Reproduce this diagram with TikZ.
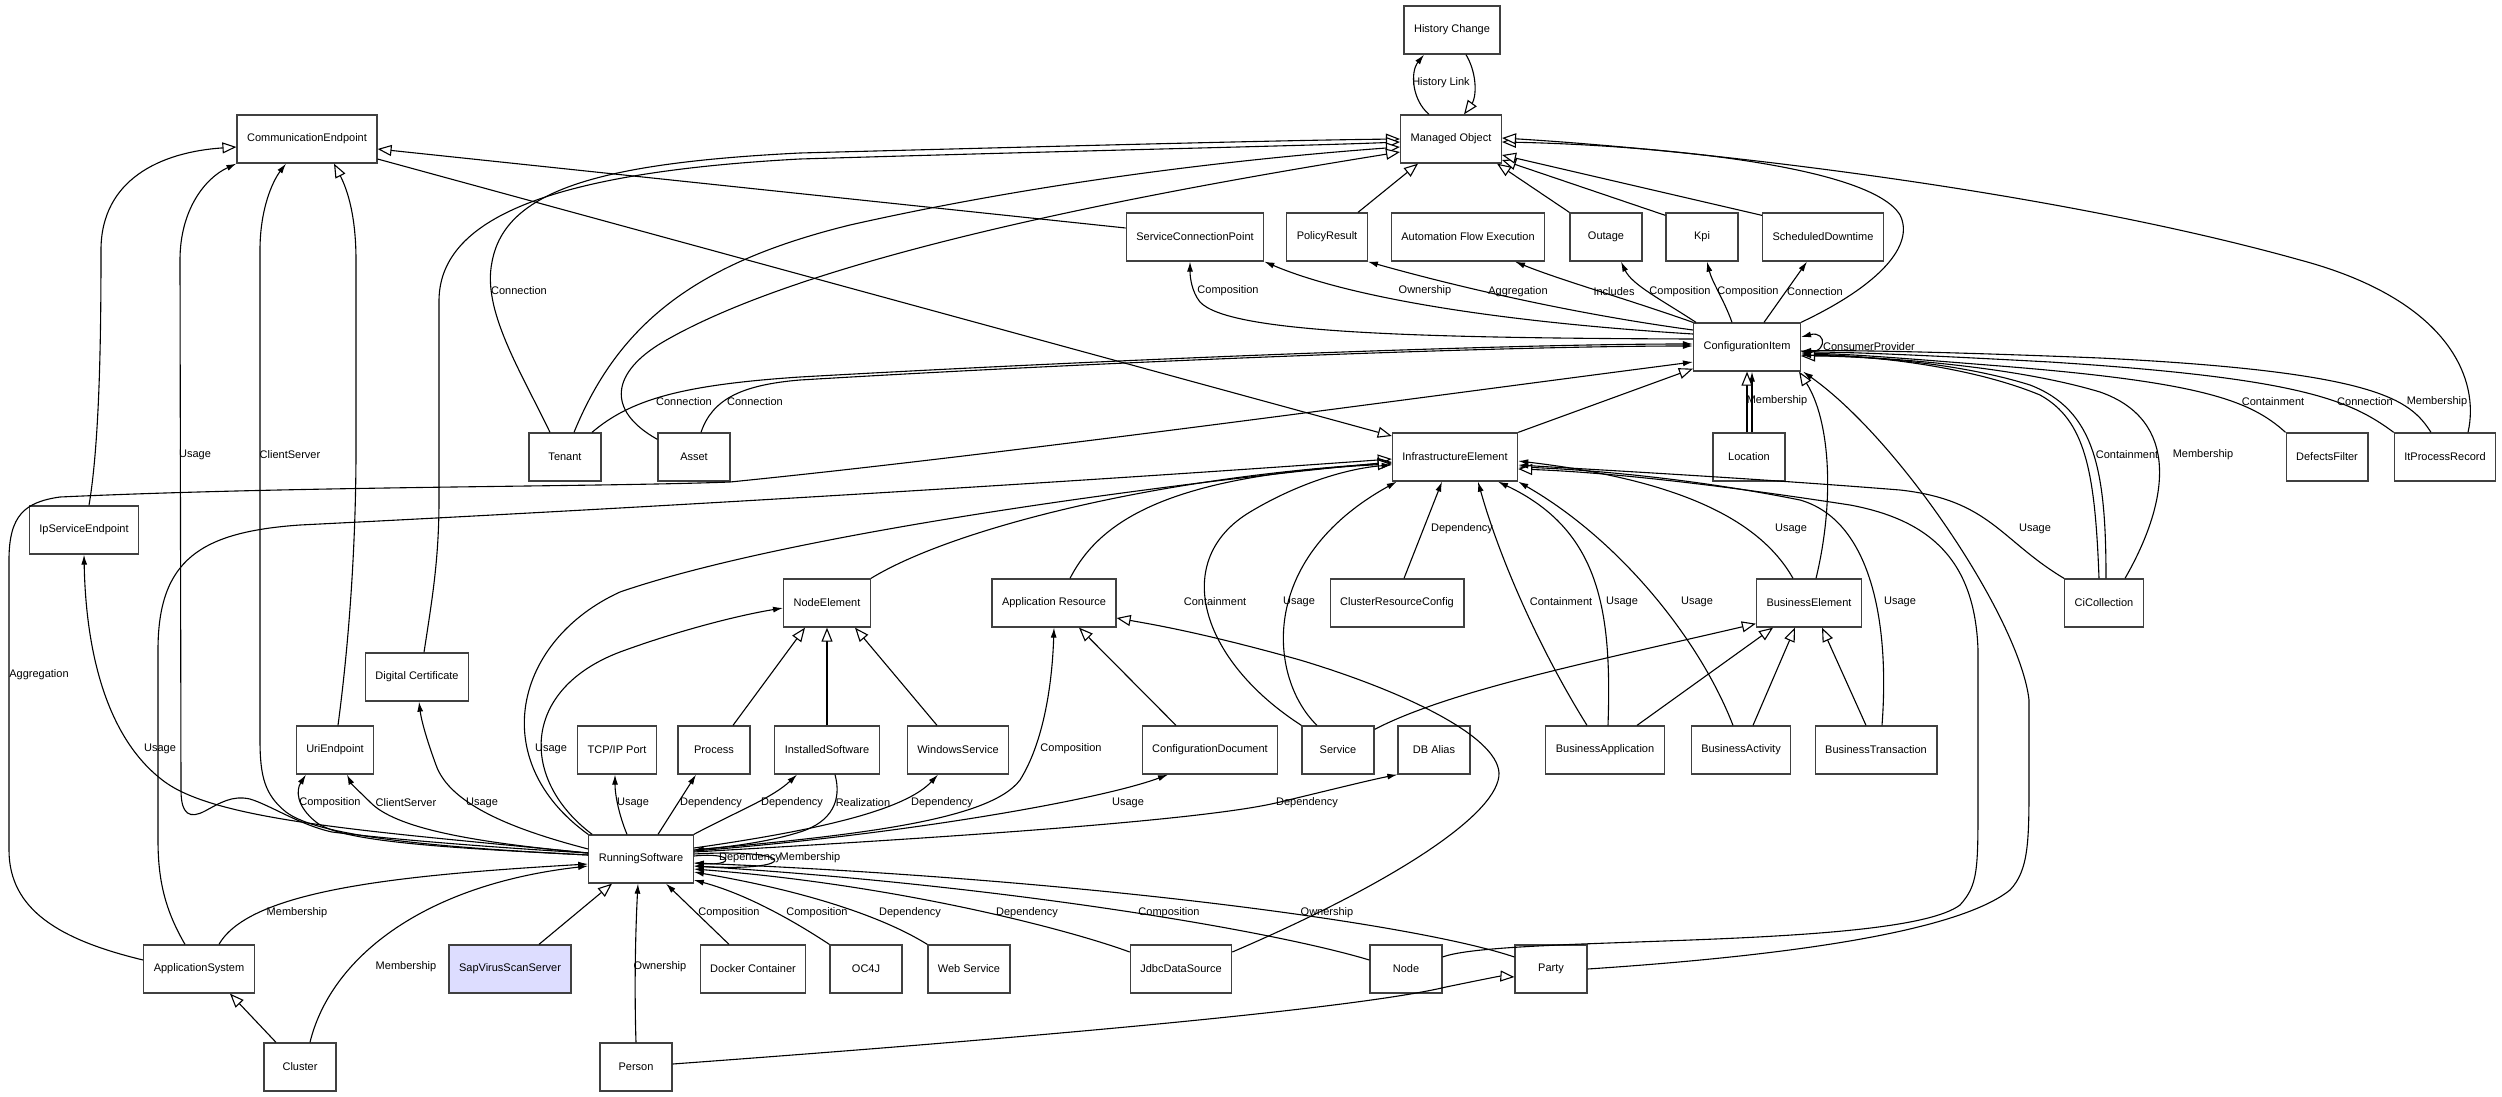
\documentclass[tikz,border=0pt]{standalone}
\usepackage{fontspec}
\setmainfont{Liberation Sans}
\usepackage{xcolor}
\usepackage{tikz}
\usetikzlibrary{arrows.meta, calc}
\definecolor{svss}{RGB}{221,221,255}
\tikzset{
    cls/.style={draw=black!75, line width=1.3pt, fill=white, minimum width=72pt,
        minimum height=48pt, inner xsep=10pt},
    assoc/.style={-{Latex[length=10pt,width=6pt]}, line width=1.1pt},
    gen/.style={-{Triangle[open,length=14pt,width=11pt,fill=white]}, line width=1.1pt},
    lbl/.style={inner sep=0pt},
    every node/.style={font=\fontsize{11}{13}\selectfont}
}

\begin{document}
\begin{tikzpicture}[x=1pt, y=-1pt]
    \path[fill=white] (0,0) rectangle (2502,1097);
    \useasboundingbox (0,0) rectangle (2502,1097);
    % Classes
    \node[cls] (HC) at (1452,30) {History Change};
    \node[cls] (MO) at (1451,139) {Managed Object};
    \node[cls] (CE) at (307,139) {CommunicationEndpoint};
    \node[cls] (SCP) at (1195,237) {ServiceConnectionPoint};
    \node[cls] (PR) at (1327,237) {PolicyResult};
    \node[cls] (AFE) at (1468,237) {Automation Flow Execution};
    \node[cls] (Outage) at (1606,237) {Outage};
    \node[cls] (Kpi) at (1702,237) {Kpi};
    \node[cls] (SD) at (1823,237) {ScheduledDowntime};
    \node[cls] (CI) at (1747,347) {ConfigurationItem};
    \node[cls] (Tenant) at (565,457) {Tenant};
    \node[cls] (Asset) at (694,457) {Asset};
    \node[cls] (IE) at (1455,457) {InfrastructureElement};
    \node[cls] (Location) at (1749,457) {Location};
    \node[cls] (DF) at (2327,457) {DefectsFilter};
    \node[cls] (ItPR) at (2445,457) {ItProcessRecord};
    \node[cls] (IpSE) at (84,530) {IpServiceEndpoint};
    \node[cls] (NE) at (827,603) {NodeElement};
    \node[cls] (AR) at (1054,603) {Application Resource};
    \node[cls] (CRC) at (1397,603) {ClusterResourceConfig};
    \node[cls] (BE) at (1809,603) {BusinessElement};
    \node[cls] (CiC) at (2104,603) {CiCollection};
    \node[cls] (DC) at (417,677) {Digital Certificate};
    \node[cls] (UE) at (335,750) {UriEndpoint};
    \node[cls] (TCP) at (617,750) {TCP/IP Port};
    \node[cls] (Proc) at (714,750) {Process};
    \node[cls] (IS) at (827,750) {InstalledSoftware};
    \node[cls] (WS) at (958,750) {WindowsService};
    \node[cls] (CD) at (1210,750) {ConfigurationDocument};
    \node[cls] (Svc) at (1338,750) {Service};
    \node[cls] (DBA) at (1434,750) {DB Alias};
    \node[cls] (BApp) at (1605,750) {BusinessApplication};
    \node[cls] (BAct) at (1741,750) {BusinessActivity};
    \node[cls] (BT) at (1876,750) {BusinessTransaction};
    \node[cls] (RS) at (641,859) {RunningSoftware};
    \node[cls] (AS) at (199,969) {ApplicationSystem};
    \node[cls, fill=svss] (SVSS) at (510,969) {SapVirusScanServer};
    \node[cls] (Docker) at (753,969) {Docker Container};
    \node[cls] (OC4J) at (866,969) {OC4J};
    \node[cls] (WebS) at (969,969) {Web Service};
    \node[cls] (JDS) at (1181,969) {JdbcDataSource};
    \node[cls] (Node) at (1406,969) {Node};
    \node[cls] (Party) at (1551,969) {Party};
    \node[cls] (Cluster) at (300,1067) {Cluster};
    \node[cls] (Person) at (636,1067) {Person};

    % History
    \draw[assoc] ($(MO.north)+(-22,0)$) .. controls (1412,100) and (1410,72) .. ($(HC.south)+(-28,0)$) node[lbl] at (1441,83) {History Link};
    \draw[gen] ($(HC.south)+(14,0)$) .. controls (1478,75) and (1476,98) .. ($(MO.north)+(13,0)$);

    % Managed Object
    \draw[gen] ($(PR.north)+(31,0)$) -- ($(MO.south)+(-33,0)$);
    \draw[gen] (Outage.north west) -- ($(MO.south east)+(-5,0)$);
    \draw[gen] ($(Kpi.north west)+(0,3)$) -- ($(MO.east)+(0,21)$);
    \draw[gen] ($(SD.north west)+(0,3)$) -- ($(MO.east)+(0,16)$);
    \draw[gen] (CI.north east) .. controls (1880,285) and (1915,245) .. (1900,215) .. controls (1870,165) and (1650,145) .. ($(MO.east)+(0,3)$);
    \draw[gen] ($(ItPR.north)+(23,0)$) .. controls (2480,380) and (2450,300) .. (2300,260) .. controls (2050,190) and (1700,150) .. ($(MO.east)+(0,-1)$);
    \draw[gen] ($(Tenant.north)+(-15,0)$) .. controls (520,370) and (482,310) .. (492,262) .. controls (505,190) and (600,163) .. (800,153) .. controls (1100,145) and (1300,140) .. (MO.west) node[lbl] at (519,291) {Connection};
    \draw[gen] ($(DC.north)+(7,0)$) .. controls (432,600) and (439,560) .. (439,500) -- (439,300) .. controls (440,215) and (560,172) .. (800,159) .. controls (1100,150) and (1300,146) .. ($(MO.west)+(0,3)$);
    \draw[gen] ($(Tenant.north)+(9,0)$) .. controls (620,320) and (700,262) .. (850,225) .. controls (1050,180) and (1250,158) .. ($(MO.west)+(0,8)$);
    \draw[gen] ($(Asset.north west)+(0,7)$) .. controls (605,410) and (612,372) .. (663,342) .. controls (800,262) and (1100,200) .. ($(MO.west)+(0,13)$);

    % CommunicationEndpoint
    \draw[gen] ($(SCP.west)+(0,-9)$) -- ($(CE.east)+(0,10)$);
    \draw[gen] ($(CE.east)+(0,20)$) -- ($(IE.west)+(0,-21)$);
    \draw[gen] ($(IpSE.north)+(5,0)$) .. controls (100,440) and (101,330) .. (101,250) .. controls (101,180) and (160,152) .. ($(CE.west)+(0,8)$);
    \draw[gen] ($(UE.north)+(3,0)$) .. controls (352,620) and (356,520) .. (356,450) -- (356,260) .. controls (356,210) and (345,185) .. ($(CE.south)+(27,0)$);
    \draw[assoc] ($(RS.west)+(0,-6)$) .. controls (470,846) and (380,838) .. (332,832) .. controls (300,825) and (270,805) .. (250,799) .. controls (232,795) and (220,803) .. (205,811) .. controls (190,819) and (181,815) .. (181,790) -- (180,260) .. controls (180,210) and (205,178) .. (CE.south west) node[lbl] at (195,455) {Usage};
    \draw[assoc] ($(RS.west)+(0,-4)$) .. controls (450,848) and (320,838) .. (286,812) .. controls (265,795) and (260,777) .. (260,740) -- (260,250) .. controls (260,210) and (272,182) .. ($(CE.south)+(-21,0)$) node[lbl] at (290,455) {ClientServer};

    % RunningSoftware, left
    \draw[assoc] ($(RS.west)+(0,-6)$) .. controls (380,832) and (220,822) .. (165,782) .. controls (110,742) and (86,660) .. (IpSE.south) node[lbl] at (160,749) {Usage};
    \draw[assoc] ($(RS.west)+(0,-4)$) .. controls (450,848) and (340,842) .. (316,822) .. controls (296,806) and (296,790) .. ($(UE.south)+(-29,0)$) node[lbl] at (330,803) {Composition};
    \draw[assoc] ($(RS.west)+(0,-6)$) .. controls (470,842) and (395,828) .. (370,802) .. controls (360,792) and (352,785) .. ($(UE.south)+(12,0)$) node[lbl] at (406,803) {ClientServer};
    \draw[assoc] ($(RS.west)+(0,-10)$) .. controls (515,830) and (450,805) .. (436,765) .. controls (425,735) and (421,718) .. ($(DC.south)+(2,0)$) node[lbl] at (482,803) {Usage};
    \draw[assoc] ($(AS.north)+(20,0)$) .. controls (250,890) and (400,875) .. ($(RS.west)+(0,5)$) node[lbl] at (297,913) {Membership};
    \draw[assoc] ($(Cluster.north)+(10,0)$) .. controls (330,960) and (420,885) .. ($(RS.west)+(0,7)$) node[lbl] at (406,967) {Membership};
    \draw[gen] ($(Cluster.north)+(-24,0)$) -- ($(AS.south)+(31,0)$);
    \draw[gen] ($(AS.north)+(-14,0)$) .. controls (165,910) and (158,880) .. (158,840) -- (158,650) .. controls (158,560) and (200,532) .. (300,525) .. controls (700,505) and (1100,480) .. ($(IE.west)+(0,2)$);
    \draw[assoc] ($(AS.west)+(0,-9)$) .. controls (60,940) and (9,910) .. (9,850) -- (9,560) .. controls (9,515) and (25,502) .. (60,497) .. controls (300,486) and (600,487) .. (730,482) .. controls (1000,455) and (1400,400) .. ($(CI.west)+(0,15)$) node[lbl] at (39,675) {Aggregation};

    % RunningSoftware, bottom
    \draw[gen] ($(SVSS.north)+(29,0)$) -- ($(RS.south)+(-29,0)$);
    \draw[assoc] (Person.north) .. controls (634,980) and (636,920) .. ($(RS.south)+(-3,0)$) node[lbl] at (660,967) {Ownership};
    \draw[gen] ($(Person.east)+(0,-3)$) .. controls (1000,1040) and (1350,1010) .. (1446,987) .. controls (1480,980) and (1500,976) .. ($(Party.west)+(0,8)$);
    \draw[assoc] ($(Docker.north)+(-24,0)$) -- ($(RS.south)+(25,0)$) node[lbl] at (729,913) {Composition};
    \draw[assoc] (OC4J.north west) .. controls (800,925) and (750,895) .. ($(RS.east)+(0,21)$) node[lbl] at (817,913) {Composition};
    \draw[assoc] (WebS.north west) .. controls (880,915) and (800,890) .. ($(RS.east)+(0,13)$) node[lbl] at (910,913) {Dependency};
    \draw[assoc] ($(JDS.west)+(0,-17)$) .. controls (1070,930) and (900,885) .. ($(RS.east)+(0,10)$) node[lbl] at (1027,913) {Dependency};
    \draw[assoc] ($(Node.west)+(0,-9)$) .. controls (1270,930) and (1000,885) .. ($(RS.east)+(0,7)$) node[lbl] at (1169,913) {Composition};
    \draw[assoc] ($(Party.west)+(0,-12)$) .. controls (1420,925) and (1100,880) .. ($(RS.east)+(0,4)$) node[lbl] at (1327,913) {Ownership};

    % RunningSoftware, top and right
    \draw[assoc] ($(RS.north)+(-14,0)$) .. controls (619,815) and (615,795) .. ($(TCP.south)+(-2,0)$) node[lbl] at (633,803) {Usage};
    \draw[assoc] ($(RS.north)+(17,0)$) -- ($(Proc.south)+(-18,0)$) node[lbl] at (711,803) {Dependency};
    \draw[assoc] (RS.north east) .. controls (740,810) and (772,798) .. ($(IS.south)+(-30,0)$) node[lbl] at (792,803) {Dependency};
    \draw[assoc] ($(IS.south)+(8,0)$) .. controls (842,800) and (832,822) .. (800,832) .. controls (765,843) and (725,847) .. ($(RS.east)+(0,-9)$) node[lbl] at (863,803) {Realization};
    \draw[assoc] ($(RS.east)+(0,-11)$) .. controls (820,830) and (905,810) .. ($(WS.south)+(-20,0)$) node[lbl] at (942,803) {Dependency};
    \draw[assoc] ($(RS.east)+(0,-9)$) .. controls (860,835) and (990,820) .. (1020,780) .. controls (1042,745) and (1052,690) .. (AR.south) node[lbl] at (1071,749) {Composition};
    \draw[assoc] ($(RS.east)+(0,-8)$) .. controls (900,835) and (1100,800) .. ($(CD.south)+(-42,0)$) node[lbl] at (1128,803) {Usage};
    \draw[assoc] ($(RS.east)+(0,-7)$) .. controls (900,840) and (1200,822) .. (1280,802) .. controls (1330,790) and (1370,780) .. (DBA.south west) node[lbl] at (1307,803) {Dependency};
    \draw[assoc] ($(RS.east)+(0,-5)$) .. controls (800,848) and (800,872) .. ($(RS.east)+(0,7)$) node[lbl] at (810,858) {Membership};
    \draw[assoc] ($(RS.east)+(0,-3)$) .. controls (735,852) and (735,866) .. ($(RS.east)+(0,4)$) node[lbl] at (750,858) {Dependency};
    \draw[assoc] ($(RS.north west)+(4,0)$) .. controls (520,780) and (520,690) .. (620,652) .. controls (680,630) and (740,615) .. ($(NE.west)+(0,5)$) node[lbl] at (551,749) {Usage};
    \draw[gen] (RS.north west) .. controls (485,760) and (515,640) .. (620,592) .. controls (800,530) and (1200,480) .. ($(IE.west)+(0,5)$);

    % NodeElement, Application Resource
    \draw[gen] ($(Proc.north)+(19,0)$) -- ($(NE.south)+(-22,0)$);
    \draw[gen] (IS.north) -- (NE.south);
    \draw[gen] ($(WS.north)+(-21,0)$) -- ($(NE.south)+(28,0)$);
    \draw[gen] ($(CD.north)+(-34,0)$) -- ($(AR.south)+(25,0)$);
    \draw[gen] ($(JDS.east)+(0,-17)$) .. controls (1400,880) and (1500,812) .. (1499,773) .. controls (1497,735) and (1400,690) .. (1300,660) .. controls (1200,632) and (1150,624) .. ($(AR.east)+(0,15)$);
    \draw[gen] (NE.north east) .. controls (950,530) and (1150,478) .. ($(IE.west)+(0,6)$);
    \draw[gen] ($(AR.north)+(16,0)$) .. controls (1100,520) and (1170,475) .. ($(IE.west)+(0,7)$);

    % InfrastructureElement
    \draw[assoc] (Svc.north west) .. controls (1200,660) and (1170,560) .. (1250,512) .. controls (1300,482) and (1350,468) .. ($(IE.west)+(0,8)$) node[lbl] at (1215,602) {Containment};
    \draw[assoc] ($(Svc.north)+(-21,0)$) .. controls (1270,680) and (1255,560) .. ($(IE.south west)+(5,0)$) node[lbl] at (1299,602) {Usage};
    \draw[assoc] ($(CRC.north)+(7,0)$) -- ($(IE.south)+(-13,0)$) node[lbl] at (1462,529) {Dependency};
    \draw[assoc] ($(BApp.north)+(-18,0)$) .. controls (1540,650) and (1500,560) .. ($(IE.south)+(23,0)$) node[lbl] at (1561,602) {Containment};
    \draw[assoc] ($(BApp.north)+(3,0)$) .. controls (1612,610) and (1600,530) .. ($(IE.south)+(43,0)$) node[lbl] at (1622,602) {Usage};
    \draw[assoc] ($(BAct.north)+(-8,0)$) .. controls (1700,640) and (1620,540) .. (IE.south east) node[lbl] at (1697,602) {Usage};
    \draw[assoc] ($(BT.north)+(6,0)$) .. controls (1890,620) and (1870,520) .. (1800,500) .. controls (1700,480) and (1600,470) .. ($(IE.east)+(0,10)$) node[lbl] at (1900,602) {Usage};
    \draw[assoc] ($(BE.north)+(-16,0)$) .. controls (1760,520) and (1680,480) .. ($(IE.east)+(0,4)$) node[lbl] at (1791,529) {Usage};
    \draw[gen] ($(Node.east)+(0,-12)$) .. controls (1500,935) and (1900,950) .. (1960,905) .. controls (1978,885) and (1978,870) .. (1978,800) -- (1978,650) .. controls (1975,560) and (1930,520) .. (1850,505) .. controls (1700,482) and (1600,472) .. ($(IE.east)+(0,12)$);
    \draw[assoc] (CiC.north west) .. controls (2000,540) and (1990,500) .. (1900,490) .. controls (1750,478) and (1600,470) .. ($(IE.east)+(0,8)$) node[lbl] at (2035,529) {Usage};

    % ConfigurationItem
    \draw[gen] (IE.north east) -- ($(CI.south west)+(0,-3)$);
    \draw[gen] ($(BE.north)+(7,0)$) .. controls (1835,500) and (1830,420) .. ($(CI.south east)+(-2,0)$);
    \draw[assoc] (Party.east) .. controls (1800,955) and (1960,930) .. (2010,890) .. controls (2029,870) and (2029,840) .. (2029,780) -- (2029,700) .. controls (2020,620) and (1900,440) .. ($(CI.south east)+(2,0)$);
    \draw[assoc] ($(Location.north)+(3,0)$) -- ($(CI.south)+(5,0)$) node[lbl] at (1777,401) {Membership};
    \draw[gen] ($(Location.north)+(-2,0)$) -- ($(CI.south)+(0,0)$);
    \draw[assoc] ($(CI.east)+(0,4)$) .. controls (1828,358) and (1828,330) .. ($(CI.east)+(0,-10)$) node[lbl] at (1869,347) {ConsumerProvider};
    \draw[assoc] (DF.north west) .. controls (2250,400) and (2200,382) .. (2000,366) .. controls (1900,358) and (1850,354) .. ($(CI.east)+(0,6)$) node[lbl] at (2273,402) {Containment};
    \draw[assoc] (ItPR.north west) .. controls (2350,400) and (2300,378) .. (2050,362) .. controls (1920,355) and (1850,352) .. ($(CI.east)+(0,5)$) node[lbl] at (2365,402) {Connection};
    \draw[assoc] ($(ItPR.north)+(-14,0)$) .. controls (2410,400) and (2380,372) .. (2100,358) .. controls (1950,352) and (1850,350) .. ($(CI.east)+(0,4)$) node[lbl] at (2437,402) {Membership};
    \draw[assoc] ($(CiC.north)+(-5,0)$) .. controls (2095,470) and (2085,420) .. (2040,395) .. controls (1960,362) and (1850,355) .. ($(CI.east)+(0,7)$) node[lbl] at (2127,455) {Containment};
    \draw[gen] ($(CiC.north)+(2,0)$) .. controls (2106,470) and (2095,410) .. (2030,385) .. controls (1950,360) and (1850,356) .. ($(CI.east)+(0,9)$);
    \draw[assoc] ($(CiC.north)+(21,0)$) .. controls (2170,500) and (2180,420) .. (2100,392) .. controls (2000,362) and (1850,356) .. ($(CI.east)+(0,8)$) node[lbl] at (2203,455) {Membership};
    \draw[assoc] ($(Tenant.north)+(27,0)$) .. controls (630,400) and (680,385) .. (800,377) .. controls (1100,360) and (1500,344) .. ($(CI.west)+(0,-3)$) node[lbl] at (684,402) {Connection};
    \draw[assoc] ($(Asset.north)+(7,0)$) .. controls (712,400) and (740,385) .. (800,380) .. controls (1100,362) and (1500,346) .. ($(CI.west)+(0,-1)$) node[lbl] at (755,402) {Connection};

    % ConfigurationItem to upper row
    \draw[assoc] ($(CI.west)+(0,-8)$) .. controls (1400,338) and (1228,332) .. (1200,302) .. controls (1192,292) and (1190,278) .. ($(SCP.south)+(-5,0)$) node[lbl] at (1228,291) {Composition};
    \draw[assoc] ($(CI.west)+(0,-13)$) .. controls (1500,322) and (1350,298) .. (SCP.south east) node[lbl] at (1425,291) {Ownership};
    \draw[assoc] ($(CI.west)+(0,-17)$) .. controls (1560,312) and (1440,282) .. (PR.south east) node[lbl] at (1518,292) {Aggregation};
    \draw[assoc] (CI.north west) .. controls (1630,300) and (1560,280) .. ($(AFE.south)+(47,0)$) node[lbl] at (1614,292) {Includes};
    \draw[assoc] ($(CI.north west)+(3,0)$) .. controls (1662,300) and (1632,285) .. ($(Outage.south)+(15,0)$) node[lbl] at (1680,292) {Composition};
    \draw[assoc] ($(CI.north)+(-15,0)$) .. controls (1724,300) and (1712,282) .. ($(Kpi.south)+(5,0)$) node[lbl] at (1748,292) {Composition};
    \draw[assoc] ($(CI.north)+(17,0)$) -- ($(SD.south)+(-16,0)$) node[lbl] at (1815,292) {Connection};

    % BusinessElement
    \draw[gen] ($(Svc.north east)+(0,4)$) .. controls (1450,690) and (1600,660) .. ($(BE.south west)+(0,-4)$);
    \draw[gen] ($(BApp.north)+(32,0)$) -- ($(BE.south)+(-36,0)$);
    \draw[gen] ($(BAct.north)+(12,0)$) -- ($(BE.south)+(-14,0)$);
    \draw[gen] ($(BT.north)+(-10,0)$) -- ($(BE.south)+(13,0)$);
\end{tikzpicture}
\end{document}
